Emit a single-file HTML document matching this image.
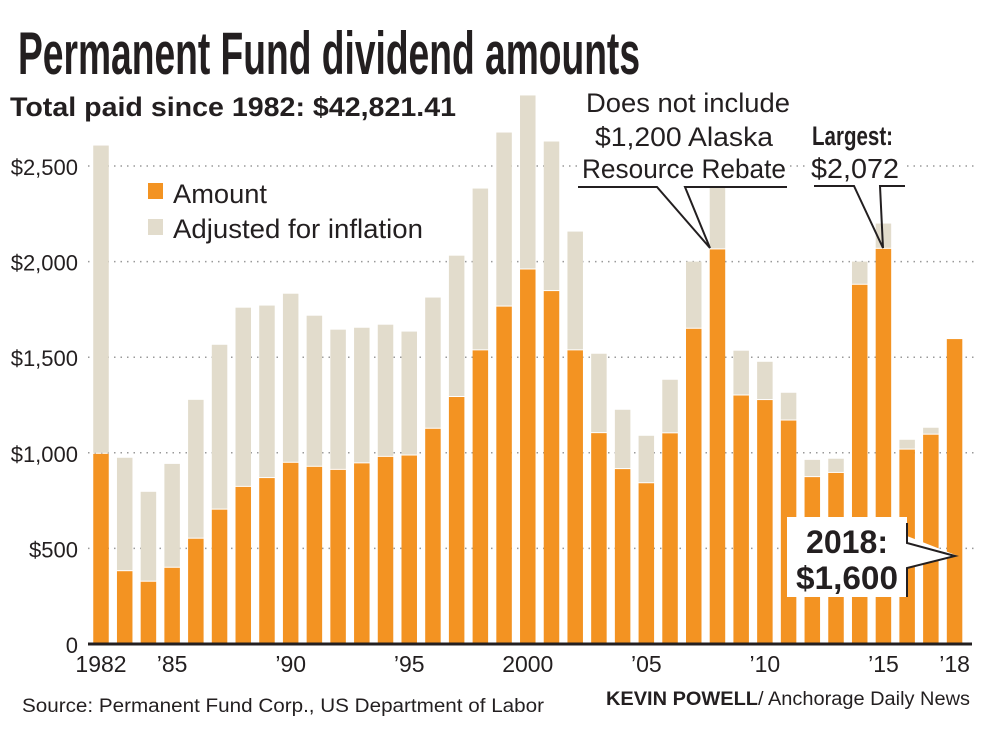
<!DOCTYPE html>
<html><head><meta charset="utf-8"><style>
body{margin:0;background:#fff}
svg{display:block;font-family:"Liberation Sans Narrow","Liberation Sans",sans-serif}
</style></head><body>
<svg id="c" width="992" height="734" viewBox="0 0 992 734">
<rect width="992" height="734" fill="#fff"/>
<text x="18" y="74" font-size="60" font-weight="bold" fill="#231f20" textLength="622" lengthAdjust="spacingAndGlyphs">Permanent Fund dividend amounts</text>
<text x="10" y="116" font-size="27" font-weight="bold" fill="#231f20" textLength="446" lengthAdjust="spacingAndGlyphs">Total paid since 1982: $42,821.41</text>
<g id="grid"></g>
<g id="bars"></g>
<line x1="88" y1="644" x2="972" y2="644" stroke="#231f20" stroke-width="3"/>
<g id="xt"></g>
<g>
<rect x="148" y="183" width="15" height="16" fill="#f39322"/>
<text x="173" y="203" font-size="27" fill="#231f20" textLength="94" lengthAdjust="spacingAndGlyphs">Amount</text>
<rect x="148" y="219" width="15" height="16" fill="#e2dccc"/>
<text x="173" y="238" font-size="27" fill="#231f20" textLength="250" lengthAdjust="spacingAndGlyphs">Adjusted for inflation</text>
</g>
<g fill="#231f20">
<rect x="578" y="86" width="212" height="100" fill="#fff"/>
<text x="688" y="112" font-size="27" text-anchor="middle" textLength="204" lengthAdjust="spacingAndGlyphs">Does not include</text>
<text x="684" y="146" font-size="27" text-anchor="middle" textLength="178" lengthAdjust="spacingAndGlyphs">$1,200 Alaska</text>
<text x="684" y="178" font-size="27" text-anchor="middle" textLength="204" lengthAdjust="spacingAndGlyphs">Resource Rebate</text>
<polyline points="578,187 657,187 710,248 685,187 787,187" fill="none" stroke="#231f20" stroke-width="2"/>
</g>
<g fill="#231f20">
<rect x="808" y="118" width="98" height="68" fill="#fff"/>
<text x="812" y="145" font-size="27" font-weight="bold" textLength="81" lengthAdjust="spacingAndGlyphs">Largest:</text>
<text x="811" y="178" font-size="28" textLength="88" lengthAdjust="spacingAndGlyphs">$2,072</text>
<polyline points="814,186 854,186 883,248 880,186 905,186" fill="none" stroke="#231f20" stroke-width="2"/>
</g>
<g>
<polygon points="787,517 907,517 907,536 958,556 907,568 907,597 787,597" fill="#fff"/>
<polyline points="907,523 907,543 955,556 907,568 907,597" fill="none" stroke="#231f20" stroke-width="2"/>
<text x="847" y="553" font-size="32" font-weight="bold" text-anchor="middle" fill="#231f20" textLength="82" lengthAdjust="spacingAndGlyphs">2018:</text>
<text x="847" y="589" font-size="32" font-weight="bold" text-anchor="middle" fill="#231f20" textLength="102" lengthAdjust="spacingAndGlyphs">$1,600</text>
</g>
<text x="22" y="712" font-size="19" fill="#231f20" textLength="522" lengthAdjust="spacingAndGlyphs">Source: Permanent Fund Corp., US Department of Labor</text>
<text x="606" y="705" font-size="19" fill="#231f20" textLength="364" lengthAdjust="spacingAndGlyphs"><tspan font-weight="bold">KEVIN POWELL</tspan>/ Anchorage Daily News</text>
</svg>
<script>
const years=[1982,1983,1984,1985,1986,1987,1988,1989,1990,1991,1992,1993,1994,1995,1996,1997,1998,1999,2000,2001,2002,2003,2004,2005,2006,2007,2008,2009,2010,2011,2012,2013,2014,2015,2016,2017,2018];
const amounts=[1000,386,331,404,556,708,827,873,953,932,916,950,984,991,1131,1297,1541,1770,1964,1851,1541,1108,920,846,1107,1654,2069,1305,1281,1174,878,900,1884,2072,1022,1100,1600];
const adjusted=[2607,974,796,942,1277,1565,1759,1770,1832,1717,1644,1654,1670,1634,1812,2031,2382,2675,2869,2628,2157,1518,1225,1089,1382,2000,2419,1534,1476,1314,963,969,2000,2199,1068,1131,1600];
const yTicks=[0,500,1000,1500,2000,2500];
const yLabels=["0","$500","$1,000","$1,500","$2,000","$2,500"];
const xTickYears=[1982,1985,1990,1995,2000,2005,2010,2015,2018];
const xTickLabels=["1982","\u201985","\u201990","\u201995","2000","\u201905","\u201910","\u201915","\u201918"];
const NS="http://www.w3.org/2000/svg";
const y=v=>644-v*0.1912;
const x=yr=>101+(yr-1982)*23.71;
const bw=15.5;
function mk(t,a,p){const e=document.createElementNS(NS,t);for(const k in a)e.setAttribute(k,a[k]);p.appendChild(e);return e;}
const g=document.getElementById('grid');
yTicks.forEach((v,i)=>{
 if(v>0){const l=mk('line',{x1:88,x2:975,y1:y(v),y2:y(v),stroke:'#999','stroke-width':1.5,'stroke-dasharray':'1.5,5'},g);
 
 }
 const t=mk('text',{x:78,y:y(v)+9,'font-size':22,'text-anchor':'end',fill:'#231f20'},g);
 t.textContent=yLabels[i];
 
 
});
const b=document.getElementById('bars');
years.forEach((yr,i)=>{
 const cx=x(yr);
 if(adjusted[i]>amounts[i]){const r=mk('rect',{x:cx-bw/2,y:y(adjusted[i]),width:bw,height:y(amounts[i])-y(adjusted[i]),fill:'#e2dccc'},b);
 
 }
 const r2=mk('rect',{x:cx-bw/2,y:y(amounts[i])+1,width:bw,height:644-y(amounts[i])-1,fill:'#f39322'},b);
 
 
});
const xt=document.getElementById('xt');
xTickYears.forEach((yr,i)=>{
 const t=mk('text',{x:x(yr),y:672,'font-size':23,'text-anchor':'middle',fill:'#231f20'},xt);
 t.textContent=xTickLabels[i];
 
 
});
</script>
</body></html>
